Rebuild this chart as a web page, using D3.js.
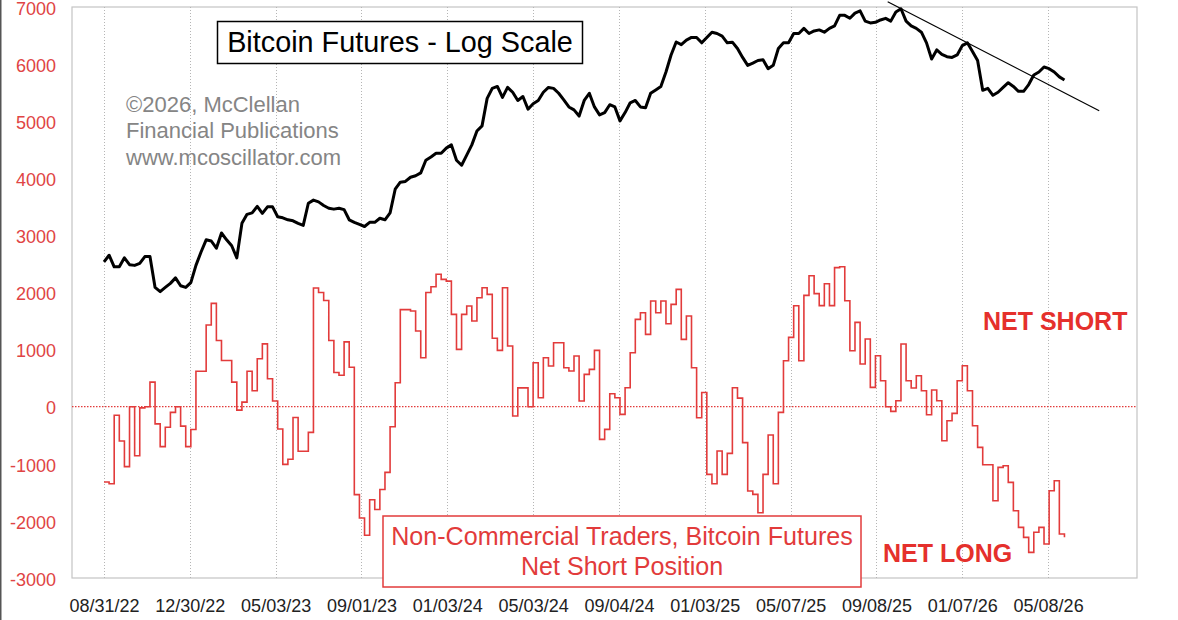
<!DOCTYPE html>
<html><head><meta charset="utf-8">
<script src="https://cdn.jsdelivr.net/npm/d3@7"></script>
<style>
html,body{margin:0;padding:0;background:#fff;}
svg{display:block;}
text{font-family:'Liberation Sans',Arial,Helvetica,sans-serif;}
</style></head><body>
<svg id="chart" width="1178" height="620"></svg>
<script>
// ---- data (weekly samples, x measured in trading days since 08/31/22) ----
const DAYS_PER_WEEK = 5;
const tickDays = [0, 84, 168, 252, 336, 420, 504, 588, 672, 756, 840, 924];
const tickLabels = ["08/31/22","12/30/22","05/03/23","09/01/23","01/03/24","05/03/24",
                    "09/04/24","01/03/25","05/07/25","09/08/25","01/07/26","05/08/26"];
const leftTicks = [7000, 6000, 5000, 4000, 3000, 2000, 1000, 0, -1000, -2000, -3000];

// Non-commercial net short position (contracts), weekly
const netShort = [
 -1320,-1350,-150,-600,-1050,0,-860,-20,0,430,
 -300,-700,-360,-100,0,-340,-700,-400,620,620,
 1430,1810,1160,810,810,430,-60,80,620,280,
 840,1100,490,100,-390,-1010,-920,-190,-780,-780,
 -450,2080,2000,1860,1160,600,550,1135,690,-1540,
 -1950,-2250,-1630,-1800,-1450,-1150,-350,420,1700,1700,
 1675,1325,858,2000,2100,2320,2230,2200,1617,1004,
 1617,1763,1500,1909,2084,1967,1200,987,2084,1062,
 -163,330,330,0,770,158,858,712,1120,1120,
 683,625,887,100,566,654,987,-572,-397,228,
 158,-134,333,946,1530,1646,1267,1850,1646,1850,
 1454,1792,2055,1179,1588,683,-193,250,-1185,-1349,
 -776,-1185,-817,333,150,-630,-1477,-1535,-1856,-1185,
 -496,-1349,-100,806,1214,1769,806,1950,2294,1980,
 1770,2154,1770,2435,2450,1856,980,1477,747,1185,
 339,893,455,0,-82,105,1097,455,327,543,
 280,-140,292,105,-595,-245,-117,455,718,280,
 -333,-712,-1016,-1016,-1646,-1062,-1033,-1325,-1821,-2113,
 -2288,-2551,-2200,-2113,-2405,-1471,-1296,-2230,-2288
];

// Bitcoin futures price (thousand USD), weekly, plotted on a log scale
const btcPrice = [
 20.0,21.0,19.3,19.3,20.6,19.6,19.5,19.8,20.8,20.8,
 16.6,16.1,16.6,17.1,17.8,16.8,16.6,17.2,19.5,21.5,
 23.5,23.3,22.1,24.7,23.5,22.5,20.6,26.5,28.3,28.6,
 30.0,28.5,29.9,29.9,27.8,27.6,27.2,27.0,26.5,26.1,
 30.7,31.4,31.0,30.2,29.6,29.4,29.6,29.3,27.2,26.7,
 26.3,25.9,26.7,26.7,27.5,27.2,28.6,34.0,35.8,36.0,
 37.1,37.5,38.3,42.0,43.0,44.2,44.2,45.9,47.0,42.0,
 40.5,43.6,47.0,52.0,54.0,66.0,71.0,72.0,66.5,71.5,
 69.0,65.0,66.9,61.0,63.5,65.0,69.0,71.5,71.0,68.5,
 65.3,62.0,60.7,58.0,65.0,68.5,62.0,58.5,59.5,63.0,
 62.0,56.0,59.5,63.9,65.0,62.0,61.6,68.5,70.2,72.0,
 80.0,90.6,99.6,97.7,101.0,103.0,103.0,99.0,103.0,107.0,
 106.0,104.0,99.0,99.5,95.0,89.0,84.0,85.4,87.0,87.5,
 82.0,84.0,95.0,99.0,99.0,106.0,106.0,110.0,106.0,108.0,
 108.8,107.0,110.0,112.0,121.0,121.0,118.4,123.0,125.0,116.0,
 114.5,115.0,117.0,118.4,116.0,124.0,127.0,116.0,112.0,110.0,
 107.0,99.0,88.0,94.0,91.0,89.5,89.0,90.6,97.0,99.0,
 93.0,87.0,70.0,71.0,67.5,69.0,71.5,74.0,72.0,69.5,
 69.5,73.0,78.3,80.0,83.0,82.0,80.0,77.2,75.5
];

// Down-trend line drawn on the price (two anchor points: trading day, price)
const trendDays = [767, 974];
const trendPrices = [133.7, 60.3];

// ---- layout ----
const W = 1178, H = 620;
const plot = {left: 72, right: 1137, top: 7, bottom: 578};
const RED = "#e23b3b";
const LABEL_RED = "#e04444";

const svg = d3.select("#chart");
svg.append("rect").attr("width", W).attr("height", H).attr("fill", "#fff");
svg.append("line").attr("x1", 0.75).attr("x2", 0.75).attr("y1", 0).attr("y2", H)
   .attr("stroke", "#555").attr("stroke-width", 1.5);

const x = d3.scaleLinear().domain([-31.3, 1011]).range([plot.left, plot.right]);
const yL = d3.scaleLinear().domain([-3000, 7000]).range([plot.bottom, plot.top]);
const yP = d3.scaleLog().domain([1.99, 128.6]).range([plot.bottom, plot.top]);

// frame
svg.append("rect")
  .attr("x", plot.left).attr("y", plot.top)
  .attr("width", plot.right - plot.left).attr("height", plot.bottom - plot.top)
  .attr("fill", "none").attr("stroke", "#c4c4c4").attr("stroke-width", 1.2);

// vertical dotted gridlines
svg.append("g").selectAll("line").data(tickDays).join("line")
  .attr("x1", d => Math.round(x(d)) + 0.5).attr("x2", d => Math.round(x(d)) + 0.5)
  .attr("y1", plot.top).attr("y2", plot.bottom)
  .attr("stroke", "#b5b5b5").attr("stroke-width", 1).attr("stroke-dasharray", "1,2");

// zero line
svg.append("line")
  .attr("x1", plot.left).attr("x2", plot.right)
  .attr("y1", yL(0)).attr("y2", yL(0))
  .attr("stroke", RED).attr("stroke-width", 1.2).attr("stroke-dasharray", "1.5,1.5");

// left axis (labels only)
const gL = svg.append("g").attr("transform", `translate(${plot.left},0)`)
  .call(d3.axisLeft(yL).tickValues(leftTicks).tickSize(0).tickPadding(16).tickFormat(d => String(d)));
gL.select(".domain").remove();
gL.selectAll("text").attr("fill", LABEL_RED).attr("font-size", 18)
  .attr("font-family", "'Liberation Sans',Arial,sans-serif").attr("dy", "0.40em");

// bottom axis (labels only)
const gB = svg.append("g").attr("transform", `translate(0,${plot.bottom})`)
  .call(d3.axisBottom(x).tickValues(tickDays).tickSize(0).tickPadding(21)
        .tickFormat((d, i) => tickLabels[i]));
gB.select(".domain").remove();
gB.selectAll("text").attr("fill", "#222").attr("font-size", 18)
  .attr("font-family", "'Liberation Sans',Arial,sans-serif");

// series data
const redData = netShort.map((v, i) => ({day: i * DAYS_PER_WEEK, v}));
const blkData = btcPrice.map((p, i) => ({day: i * DAYS_PER_WEEK, p}));

svg.append("path").datum(redData)
  .attr("fill", "none").attr("stroke", RED).attr("stroke-width", 1.6)
  .attr("stroke-linejoin", "miter")
  .attr("d", d3.line().curve(d3.curveStepAfter).x(d => x(d.day)).y(d => yL(d.v)));

svg.append("path").datum(blkData)
  .attr("fill", "none").attr("stroke", "#000").attr("stroke-width", 3)
  .attr("stroke-linejoin", "round")
  .attr("d", d3.line().x(d => x(d.day)).y(d => yP(d.p)));

// trend line
svg.append("path").datum(trendDays.map((d, i) => ({day: d, p: trendPrices[i]})))
  .attr("fill", "none").attr("stroke", "#000").attr("stroke-width", 1.2)
  .attr("d", d3.line().x(d => x(d.day)).y(d => yP(d.p)));

// title box
svg.append("rect").attr("x", 217.5).attr("y", 21.5).attr("width", 365).attr("height", 42)
  .attr("fill", "#fff").attr("stroke", "#000").attr("stroke-width", 1.5);
svg.append("text").attr("x", 400).attr("y", 52).attr("text-anchor", "middle")
  .attr("font-size", 28.8).attr("fill", "#000").text("Bitcoin Futures - Log Scale");

// copyright
const copy = ["\u00A92026, McClellan", "Financial Publications", "www.mcoscillator.com"];
svg.append("g").selectAll("text").data(copy).join("text")
  .attr("x", 126).attr("y", (d, i) => 111.5 + i * 26.7)
  .attr("font-size", 22).attr("fill", "#858585").text(d => d);

// legend box
svg.append("rect").attr("x", 383).attr("y", 516).attr("width", 478).attr("height", 71)
  .attr("fill", "#fff").attr("stroke", RED).attr("stroke-width", 1.5);
svg.append("text").attr("x", 622).attr("y", 545).attr("text-anchor", "middle")
  .attr("font-size", 25.1).attr("fill", RED).text("Non-Commercial Traders, Bitcoin Futures");
svg.append("text").attr("x", 622).attr("y", 575).attr("text-anchor", "middle")
  .attr("font-size", 25.1).attr("fill", RED).text("Net Short Position");

// annotations
svg.append("text").attr("x", 983).attr("y", 329.5).attr("font-size", 25).attr("font-weight", "bold")
  .attr("fill", "#e5302c").text("NET SHORT");
svg.append("text").attr("x", 883).attr("y", 561.5).attr("font-size", 25).attr("font-weight", "bold")
  .attr("fill", "#e5302c").text("NET LONG");
</script>
</body></html>
